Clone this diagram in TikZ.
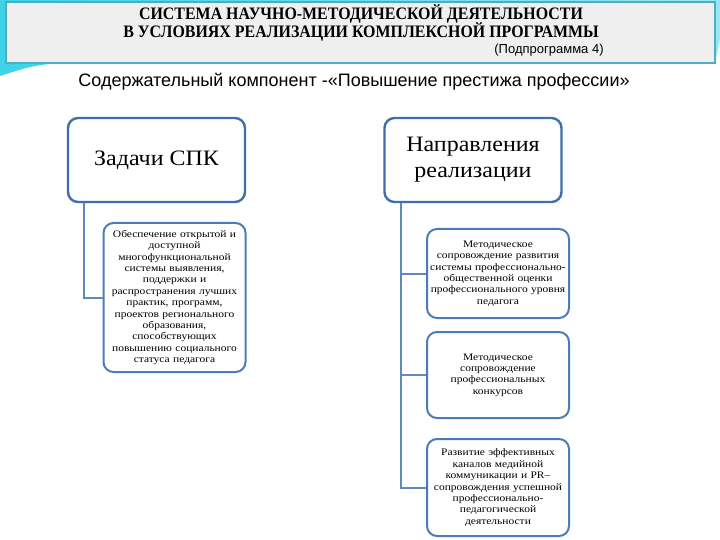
\documentclass[tikz,border=0pt]{standalone}
\usepackage{fontspec}
\setmainfont{Liberation Serif}
\newfontfamily\titlefont[FakeStretch=0.91]{Liberation Serif}
\newfontfamily\arialfont{Liberation Sans}
\newfontfamily\bigboxfont[FakeStretch=1.09]{Liberation Serif}
\newfontfamily\smallboxfont[FakeStretch=1.15]{Liberation Serif}
\definecolor{headfill}{HTML}{EFEFEF}
\definecolor{headline}{HTML}{4BAFC0}
\definecolor{cyanA}{HTML}{3FD3E8}
\definecolor{cyanB}{HTML}{9BE6F0}
\definecolor{bigline}{HTML}{3E6FA8}
\definecolor{smallline}{HTML}{4A7DB8}
\definecolor{conn}{HTML}{6289BE}
\usetikzlibrary{positioning}
\tikzset{
  bigbox/.style={draw=bigline, line width=2.4pt, rounded corners=10pt, fill=white, minimum width=177pt, inner sep=0pt, align=center, font=\bigboxfont\fontsize{22}{26}\selectfont},
  smallbox/.style={draw=smallline, line width=2pt, rounded corners=10pt, fill=white, minimum width=142pt, text width=138pt, inner sep=0pt, align=center, font=\smallboxfont\fontsize{10}{11.4}\selectfont},
  connector/.style={draw=conn, line width=2pt}
}
\begin{document}
\begin{tikzpicture}[x=1pt,y=-1pt]
\useasboundingbox (0,0) rectangle (720,540);
\fill[white] (0,0) rectangle (720,540);
% cyan background swoosh
\shade[left color=cyanA, right color=cyanB] (0,0) -- (720,0) -- (720,40) -- (715,63) -- (55,63) .. controls (28,67) .. (0,76) -- cycle;
\draw[white, line width=1pt] (55,65) .. controls (28,69) .. (0,78);
% header
\node[draw=headline, line width=1.4pt, fill=headfill, minimum width=709pt, minimum height=61pt, inner sep=0pt] (head) at (360.5,32.5) {};
\node[font=\titlefont\bfseries\fontsize{17.5}{19}\selectfont, align=center] (t1) at (361,14) {СИСТЕМА НАУЧНО-МЕТОДИЧЕСКОЙ ДЕЯТЕЛЬНОСТИ};
\node[font=\titlefont\bfseries\fontsize{17.5}{19}\selectfont, align=center] (t2) at (361,32) {В УСЛОВИЯХ РЕАЛИЗАЦИИ КОМПЛЕКСНОЙ ПРОГРАММЫ};
\node[font=\arialfont\fontsize{13}{15}\selectfont] (t3) at (549,50) {(Подпрограмма 4)};
\node[font=\arialfont\fontsize{18}{20}\selectfont] (sub) at (354,82) {Содержательный компонент -«Повышение престижа профессии»};
% left column
\node[bigbox, minimum height=84pt] (bigL) at (156.5,160) {Задачи СПК};
\node[smallbox, minimum height=149pt] (cL) at (174.5,297.5) {Обеспечение открытой и\\доступной\\многофункциональной\\системы выявления,\\поддержки и\\распространения лучших\\практик, программ,\\проектов регионального\\образования,\\способствующих\\повышению социального\\статуса педагога};
% right column
\node[bigbox, minimum height=84pt] (bigR) at (473,160) {Направления\\реализации};
\node[smallbox, minimum height=89pt] (c1) at (498,273.5) {Методическое\\сопровождение развития\\системы профессионально-\\общественной оценки\\профессионального уровня\\педагога};
\node[smallbox, minimum height=86pt] (c2) at (498,375) {Методическое\\сопровождение\\профессиональных\\конкурсов};
\node[smallbox, minimum height=97pt] (c3) at (498,487.5) {Развитие эффективных\\каналов медийной\\коммуникации и PR–\\сопровождения успешной\\профессионально-\\педагогической\\деятельности};
% connectors
\coordinate (jL) at ([xshift=17pt]bigL.south west);
\coordinate (jR) at ([xshift=18pt]bigR.south west);
\draw[connector] (jL) |- (cL.west);
\draw[connector] (jR) |- (c1.west);
\draw[connector] (jR) |- (c2.west);
\draw[connector] (jR) |- (c3.west);
\end{tikzpicture}
\end{document}
